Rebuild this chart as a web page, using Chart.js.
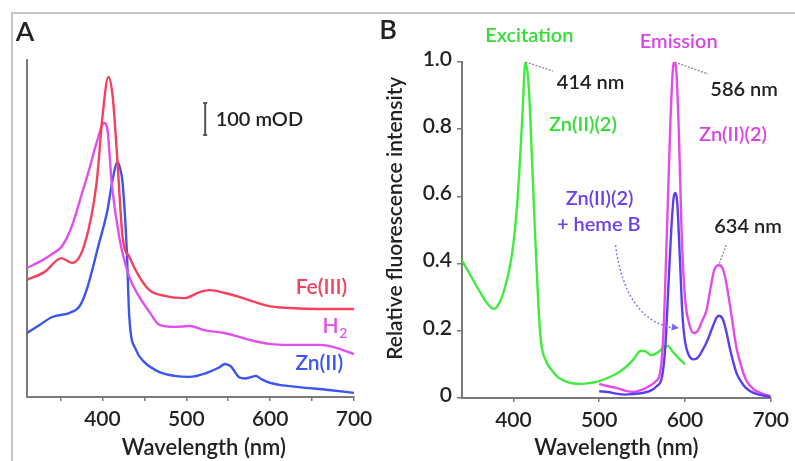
<!DOCTYPE html>
<html><head><meta charset="utf-8">
<script src="https://cdn.jsdelivr.net/npm/chart.js@4.4.1/dist/chart.umd.min.js"></script>
<style>
html,body{margin:0;padding:0;background:#fff;width:795px;height:461px;overflow:hidden}
#frame{position:absolute;left:11px;top:12px;width:790px;height:460px;border-top:2px solid #c4c4c4;border-left:2px solid #c4c4c4}
#ca{position:absolute;left:0;top:0}
#cb{position:absolute;left:380px;top:0}
</style></head><body>
<div id="frame"></div>
<canvas id="ca" width="380" height="461"></canvas>
<canvas id="cb" width="415" height="461"></canvas>
<script>
// ---------- Panel A data (absorbance, mOD, stacked offsets as drawn) ----------
const feNm  = [310,331,351,364,379,393,400,407,412,417,424,432,444,456,474,498,516,528,546,563,581,599,623,659,700];
const feAbs = [366,391,434,419,480,669,875,1000,944,772,500,438,375,334,316,309,328,334,325,313,297,284,278,275,275];
const h2Nm  = [310,330,340,350,357,365,376,384,393,402,406,411,420,432,444,456,468,486,504,521,545,563,581,599,623,659,676,700];
const h2Abs = [403,430,447,466,494,545,640,709,794,856,834,669,500,375,313,266,225,219,222,209,200,188,175,166,163,163,156,134];
const znNm  = [310,325,340,361,373,381,396,406,412,418,421,424,429,432,440,450,468,486,504,524,539,546,553,563,570,577,583,590,600,611,634,670,700];
const znAbs = [200,225,250,263,285,334,481,584,678,734,715,669,459,250,147,109,78,66,63,75,92,103,96,62,58,62,66,55,44,38,31,22,13];
const aTicks = [350,400,450,500,550,600,650,700];

// ---------- Panel B data (relative fluorescence intensity) ----------
const exNm  = [340,350,360,370,377,383,389,395,400,405,410,414,418,421,425,429,432,438,444,452,460,470,480,490,500,510,520,530,540,548,553,560,568,575,580,585,592,600];
const exVal = [0.41,0.365,0.32,0.28,0.265,0.28,0.32,0.38,0.46,0.6,0.82,1.0,0.92,0.75,0.5,0.28,0.17,0.11,0.085,0.062,0.05,0.043,0.042,0.045,0.05,0.06,0.072,0.09,0.115,0.14,0.14,0.128,0.135,0.15,0.155,0.14,0.12,0.1];
const emNm  = [500,510,520,530,540,550,560,566,571,575,579,583,586,588,590,593,596,600,605,610,615,620,625,630,634,640,644,648,654,660,665,671,680,690,700];
const emVal = [0.042,0.035,0.03,0.022,0.018,0.025,0.038,0.05,0.075,0.2,0.5,0.82,0.98,1.0,0.97,0.78,0.5,0.3,0.22,0.193,0.2,0.23,0.26,0.33,0.38,0.395,0.385,0.345,0.25,0.15,0.1,0.055,0.026,0.013,0.005];
const hmNm  = [500,510,520,530,540,550,560,567,573,577,581,584,587,589,591,594,597,600,605,610,615,620,626,632,637,640,644,648,652,656,660,665,671,680,690,700];
const hmVal = [0.02,0.018,0.013,0.01,0.012,0.015,0.022,0.035,0.06,0.15,0.35,0.5,0.6,0.61,0.58,0.42,0.25,0.17,0.125,0.115,0.12,0.14,0.17,0.21,0.24,0.245,0.235,0.2,0.152,0.11,0.075,0.05,0.03,0.015,0.008,0.003];
const bXTicks = [400,500,600,700];
const bYTicks = [0,0.2,0.4,0.6,0.8,1.0];

const FONT = 'Lato, "Open Sans", sans-serif';
const W = '600';
const INK = '#222';
const AXIS = '#7a7a7a';
const RED = '#f5405e', MAG = '#e050ee', BLUE = '#3c55f0';
const GREEN = '#3fec3f', EMAG = '#e44ce8', VIOLET = '#5a3ff0';
const GREEN_T = '#33dd33', MAG_T = '#d845e6', VIOLET_T = '#6a40ee';

const pts = (xs, ys) => xs.map((x, i) => ({x, y: ys[i]}));
const line = (label, xs, ys, color, order) => ({
  label, data: pts(xs, ys), borderColor: color, backgroundColor: color,
  borderWidth: 2.4, pointRadius: 0, cubicInterpolationMode: 'monotone', fill: false, order
});

function txt(ctx, s, x, y, size, color, align, rot) {
  ctx.save();
  ctx.font = W + ' ' + size + 'px ' + FONT;
  ctx.fillStyle = color;
  ctx.textAlign = align || 'center';
  ctx.textBaseline = 'middle';
  ctx.translate(x, y);
  if (rot) ctx.rotate(rot);
  ctx.fillText(s, 0, 0);
  ctx.restore();
}

// ---------- Panel A ----------
const aNotes = {
  fe: {text: 'Fe(III)', nm: 692, v: 344},
  h2: {nm: 692, v: 222},
  zn: {text: 'Zn(II)', nm: 687, v: 106},
  bar: {nm: 522.5, lo: 819, hi: 919},
  barText: {nm: 535, v: 866},
  xTitle: {text: 'Wavelength (nm)', nm: 521}
};
const annotA = {
  id: 'annotA',
  afterDraw(chart) {
    const {ctx, scales: {x, y}} = chart;
    const X = v => x.getPixelForValue(v), Y = v => y.getPixelForValue(v);
    txt(ctx, 'A', 25, 32, 27, INK);
    txt(ctx, aNotes.xTitle.text, X(aNotes.xTitle.nm), x.bottom - 13, 22, INK);
    txt(ctx, aNotes.fe.text, X(aNotes.fe.nm), Y(aNotes.fe.v), 21, RED, 'right');
    ctx.save();
    ctx.font = W + ' 14px ' + FONT;
    const w2 = ctx.measureText('2').width;
    ctx.restore();
    const hx = X(aNotes.h2.nm), hy = Y(aNotes.h2.v);
    txt(ctx, '2', hx, hy + 8, 14, MAG, 'right');
    txt(ctx, 'H', hx - w2 - 0.5, hy, 21, MAG, 'right');
    txt(ctx, aNotes.zn.text, X(aNotes.zn.nm), Y(aNotes.zn.v), 21, BLUE, 'right');
    const bx = X(aNotes.bar.nm), b0 = Y(aNotes.bar.lo), b1 = Y(aNotes.bar.hi);
    ctx.save();
    ctx.strokeStyle = '#555'; ctx.lineWidth = 2;
    ctx.beginPath();
    ctx.moveTo(bx, b0); ctx.lineTo(bx, b1);
    ctx.moveTo(bx - 2, b0); ctx.lineTo(bx + 2, b0);
    ctx.moveTo(bx - 2, b1); ctx.lineTo(bx + 2, b1);
    ctx.stroke();
    ctx.restore();
    txt(ctx, '100 mOD', X(aNotes.barText.nm), Y(aNotes.barText.v), 20, INK, 'left');
  }
};

new Chart(document.getElementById('ca'), {
  type: 'line',
  data: {datasets: [
    line('Fe(III)', feNm, feAbs, RED, 1),
    line('H2', h2Nm, h2Abs, MAG, 2),
    line('Zn(II)', znNm, znAbs, BLUE, 3)
  ]},
  options: {
    responsive: false, animation: false, devicePixelRatio: 1,
    layout: {padding: {left: 0, right: 26, top: 60, bottom: 0}},
    plugins: {legend: {display: false}, tooltip: {enabled: false}},
    scales: {
      x: {
        type: 'linear', min: 310, max: 700,
        afterBuildTicks: s => { s.ticks = aTicks.map(v => ({value: v})); },
        afterFit: s => { s.height = 64; },
        border: {display: true, color: AXIS, width: 2},
        grid: {display: true, drawOnChartArea: false, drawTicks: true, tickLength: 4, color: AXIS, lineWidth: 1.5},
        ticks: {callback: v => (v % 100 === 0 ? String(v) : ''), font: {family: FONT, size: 21, weight: W}, color: INK, padding: 6, maxRotation: 0, autoSkip: false},
        title: {display: false}
      },
      y: {
        min: 0, max: 1053,
        afterFit: s => { s.width = 27; },
        ticks: {display: false},
        grid: {display: false},
        border: {display: true, color: AXIS, width: 2}
      }
    }
  },
  plugins: [annotA]
});

// ---------- Panel B ----------
const bNotes = [
  {text: 'Excitation', nm: 418.5, v: 1.08, color: GREEN_T},
  {text: 'Emission', nm: 592.7, v: 1.06, color: MAG_T},
  {text: '414 nm', nm: 490, v: 0.94, color: INK},
  {text: '586 nm', nm: 669, v: 0.917, color: INK},
  {text: 'Zn(II)(2)', nm: 481, v: 0.8125, color: GREEN_T},
  {text: 'Zn(II)(2)', nm: 656, v: 0.783, color: MAG_T},
  {text: 'Zn(II)(2)', nm: 500.4, v: 0.595, color: VIOLET_T},
  {text: '+ heme B', nm: 499.5, v: 0.515, color: VIOLET_T},
  {text: '634 nm', nm: 673.5, v: 0.509, color: INK}
];
const bYTitle = {text: 'Relative fluorescence intensity', v: 0.535};
const bLeaders = [
  {from: [414, 1.0], to: [446, 0.973]},
  {from: [588, 1.0], to: [627, 0.964]},
  {from: [648, 0.455], to: [640, 0.40]}
];
const bArrow = {from: [519, 0.455], ctrl: [530.5, 0.232], to: [593, 0.208]};

const annotB = {
  id: 'annotB',
  afterDraw(chart) {
    const {ctx, scales: {x, y}} = chart;
    const X = v => x.getPixelForValue(v), Y = v => y.getPixelForValue(v);
    txt(ctx, 'B', 8, 30, 27, INK);
    txt(ctx, bYTitle.text, 15, Y(bYTitle.v), 21, INK, 'center', -Math.PI / 2);
    bNotes.forEach(n => txt(ctx, n.text, X(n.nm), Y(n.v), 20, n.color));
    ctx.save();
    ctx.strokeStyle = '#888'; ctx.lineWidth = 1.3; ctx.setLineDash([2, 1.5]);
    bLeaders.forEach(l => {
      ctx.beginPath();
      ctx.moveTo(X(l.from[0]), Y(l.from[1]));
      ctx.lineTo(X(l.to[0]), Y(l.to[1]));
      ctx.stroke();
    });
    const sx = X(bArrow.from[0]), sy = Y(bArrow.from[1]);
    const cx = X(bArrow.ctrl[0]), cy = Y(bArrow.ctrl[1]);
    const ex = X(bArrow.to[0]), ey = Y(bArrow.to[1]);
    ctx.strokeStyle = '#8a78f0'; ctx.lineWidth = 1.5; ctx.setLineDash([2, 2]);
    ctx.beginPath(); ctx.moveTo(sx, sy); ctx.quadraticCurveTo(cx, cy, ex - 5, ey); ctx.stroke();
    ctx.setLineDash([]);
    const ang = Math.atan2(ey - cy, ex - cx);
    ctx.fillStyle = '#7a66f0';
    ctx.beginPath();
    ctx.moveTo(ex, ey);
    ctx.lineTo(ex - 8 * Math.cos(ang - 0.45), ey - 8 * Math.sin(ang - 0.45));
    ctx.lineTo(ex - 8 * Math.cos(ang + 0.45), ey - 8 * Math.sin(ang + 0.45));
    ctx.closePath(); ctx.fill();
    ctx.restore();
  }
};

new Chart(document.getElementById('cb'), {
  type: 'line',
  data: {datasets: [
    line('Excitation Zn(II)(2)', exNm, exVal, GREEN, 3),
    line('Emission Zn(II)(2)', emNm, emVal, EMAG, 2),
    line('Zn(II)(2) + heme B', hmNm, hmVal, VIOLET, 1)
  ]},
  options: {
    responsive: false, animation: false, devicePixelRatio: 1,
    layout: {padding: {left: 0, right: 20, top: 62, bottom: 0}},
    plugins: {legend: {display: false}, tooltip: {enabled: false}},
    scales: {
      x: {
        type: 'linear', min: 340, max: 700,
        afterBuildTicks: s => { s.ticks = bXTicks.map(v => ({value: v})); },
        afterFit: s => { s.height = 63; },
        border: {display: true, color: AXIS, width: 2},
        grid: {display: true, drawOnChartArea: false, drawTicks: true, tickLength: 4, color: AXIS, lineWidth: 1.5},
        ticks: {callback: v => String(v), font: {family: FONT, size: 21, weight: W}, color: INK, padding: 6, maxRotation: 0, autoSkip: false},
        title: {display: true, text: 'Wavelength (nm)', font: {family: FONT, size: 22, weight: W}, color: INK, padding: {top: 0, bottom: 0}}
      },
      y: {
        min: 0, max: 1.0,
        afterBuildTicks: s => { s.ticks = bYTicks.map(v => ({value: v})); },
        afterFit: s => { s.width = 82; },
        border: {display: true, color: AXIS, width: 2},
        grid: {display: true, drawOnChartArea: false, drawTicks: true, tickLength: 5, color: AXIS, lineWidth: 1.5},
        ticks: {callback: v => (v === 0 ? '0' : v.toFixed(1)), font: {family: FONT, size: 21, weight: W}, color: INK, padding: 5, labelOffset: -3},
        title: {display: false}
      }
    }
  },
  plugins: [annotB]
});
</script>
</body></html>
